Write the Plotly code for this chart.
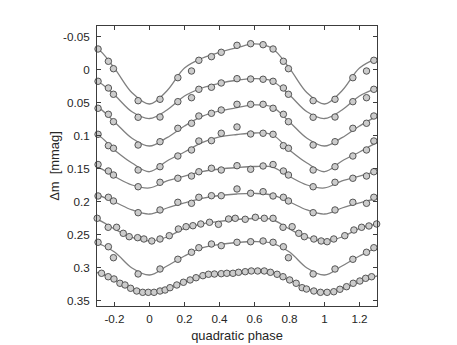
import plotly.graph_objects as go

# phases (fraction of a cycle) of the sparse light curves, one cycle
base_phase = [0.060, 0.162, 0.240, 0.282, 0.354, 0.410, 0.500, 0.578, 0.649, 0.706, 0.765, 0.794, 0.935]

# sparse curves, top to bottom (delta m)
c1 = [0.0448, 0.0121, 0.0020, -0.0142, -0.0197, -0.0263, -0.0369, -0.0393, -0.0378, -0.0313, -0.0127, -0.0015, 0.0469]
c2 = [0.0716, 0.0484, 0.0424, 0.0297, 0.0266, 0.0201, 0.0136, 0.0141, 0.0145, 0.0176, 0.0277, 0.0372, 0.0720]
c3 = [0.1090, 0.0887, 0.0811, 0.0701, 0.0660, 0.0610, 0.0524, 0.0524, 0.0524, 0.0584, 0.0675, 0.0787, 0.1140]
c4 = [0.1468, 0.1306, 0.1215, 0.1079, 0.1074, 0.0962, 0.0867, 0.0973, 0.0962, 0.0978, 0.1150, 0.1189, 0.1518]
c5 = [0.1704, 0.1643, 0.1609, 0.1544, 0.1492, 0.1518, 0.1453, 0.1507, 0.1457, 0.1435, 0.1533, 0.1594, 0.1771]
c6 = [0.2123, 0.2007, 0.2022, 0.1931, 0.1907, 0.1907, 0.1805, 0.1870, 0.1846, 0.1911, 0.1931, 0.1987, 0.2164]
c8 = [0.3016, 0.2869, 0.2763, 0.2694, 0.2638, 0.2663, 0.2612, 0.2603, 0.2592, 0.2612, 0.2679, 0.2845, 0.3091]

# dense curve 7
c7_phase = [-0.299, -0.236, -0.188, -0.150, -0.116, -0.068, -0.032, 0.013, 0.060, 0.113, 0.165, 0.209,
            0.248, 0.293, 0.343, 0.394, 0.452, 0.490, 0.547, 0.605, 0.656, 0.706, 0.763, 0.815, 0.853,
            0.885, 0.939, 0.981, 1.015, 1.053, 1.116, 1.168, 1.212, 1.254, 1.298]
c7 = [0.2249, 0.2385, 0.2385, 0.2476, 0.2527, 0.2542, 0.2562, 0.2592, 0.2562, 0.2512, 0.2411, 0.2376,
      0.2361, 0.2335, 0.2309, 0.2340, 0.2259, 0.2249, 0.2264, 0.2234, 0.2249, 0.2249, 0.2385, 0.2376, 0.2476,
      0.2527, 0.2562, 0.2592, 0.2603, 0.2562, 0.2512, 0.2426, 0.2385, 0.2365, 0.2335]

# dense curve 9 (bottom)
c9_phase = [-0.274, -0.236, -0.203, -0.169, -0.140, -0.108, -0.073, -0.039, -0.007, 0.026, 0.060, 0.089,
            0.117, 0.156, 0.194, 0.232, 0.266, 0.305, 0.337, 0.371, 0.410, 0.442, 0.477, 0.509, 0.547,
            0.582, 0.618, 0.656, 0.691, 0.729, 0.763, 0.801, 0.838, 0.872, 0.897, 0.939, 0.977, 1.015,
            1.053, 1.088, 1.126, 1.164, 1.202, 1.235, 1.269]
c9 = [0.3081, 0.3133, 0.3167, 0.3232, 0.3258, 0.3308, 0.3349, 0.3369, 0.3369, 0.3369, 0.3349, 0.3334,
      0.3299, 0.3258, 0.3217, 0.3182, 0.3148, 0.3117, 0.3096, 0.3092, 0.3087, 0.3081, 0.3081, 0.3066, 0.3057,
      0.3046, 0.3046, 0.3046, 0.3066, 0.3096, 0.3133, 0.3182, 0.3232, 0.3299, 0.3319, 0.3349, 0.3369, 0.3369,
      0.3360, 0.3323, 0.3284, 0.3232, 0.3198, 0.3157, 0.3133]

# fitted curves, read at phase 0.0, 0.1, ... 0.9
fit_phase = [0.0, 0.1, 0.2, 0.3, 0.4, 0.5, 0.6, 0.7, 0.8, 0.9]
fits = [
    [0.0519, 0.0318, -0.0026, -0.0173, -0.0263, -0.0333, -0.0389, -0.0324, -0.0021, 0.0348],
    [0.0739, 0.0610, 0.0398, 0.0277, 0.0206, 0.0160, 0.0136, 0.0171, 0.0383, 0.0636],
    [0.1155, 0.1029, 0.0852, 0.0708, 0.0625, 0.0575, 0.0534, 0.0564, 0.0791, 0.1038],
    [0.1544, 0.1382, 0.1245, 0.1105, 0.1018, 0.0981, 0.0958, 0.0981, 0.1215, 0.1412],
    [0.1790, 0.1684, 0.1609, 0.1541, 0.1503, 0.1480, 0.1465, 0.1472, 0.1616, 0.1745],
    [0.2184, 0.2093, 0.2017, 0.1949, 0.1904, 0.1881, 0.1873, 0.1896, 0.2002, 0.2123],
    [0.2592, 0.2532, 0.2403, 0.2335, 0.2297, 0.2267, 0.2252, 0.2267, 0.2411, 0.2539],
    [0.3107, 0.2971, 0.2819, 0.2698, 0.2645, 0.2615, 0.2600, 0.2623, 0.2759, 0.3001],
    [0.3372, 0.3319, 0.3213, 0.3122, 0.3089, 0.3069, 0.3046, 0.3069, 0.3183, 0.3311],
]

x_ticks = [-0.2, 0, 0.2, 0.4, 0.6, 0.8, 1, 1.2]
x_ticktext = ["-0.2", "0", "0.2", "0.4", "0.6", "0.8", "1", "1.2"]
y_ticks = [-0.05, 0, 0.05, 0.1, 0.15, 0.2, 0.25, 0.3, 0.35]
y_ticktext = ["-0.05", "0", "0.05", "0.1", "0.15", "0.2", "0.25", "0.3", "0.35"]

X_MIN, X_MAX = -0.3, 1.3


def unfold(phase, vals, lo=X_MIN, hi=X_MAX):
    """Repeat one phased cycle at phase-1 and phase+1, keep what falls in [lo, hi]."""
    xs, ys = [], []
    for shift in (-1, 0, 1):
        for p, v in zip(phase, vals):
            if lo - 1e-9 <= p + shift <= hi + 1e-9:
                xs.append(p + shift)
                ys.append(v)
    order = sorted(range(len(xs)), key=lambda i: xs[i])
    return [xs[i] for i in order], [ys[i] for i in order]


LINE_COLOR = "rgb(128,128,128)"
MARKER = dict(symbol="circle", size=6.5, color="rgb(204,204,204)",
              line=dict(color="rgb(70,70,70)", width=0.9))
FONT = "Liberation Sans, Arial, sans-serif"

fig = go.Figure()

# fitted curves first so the points sit on top
for f in fits:
    fx, fy = unfold(fit_phase, f, lo=-1.0, hi=2.0)
    fig.add_trace(go.Scatter(x=fx, y=fy, mode="lines", line=dict(color=LINE_COLOR, width=1.3, shape="spline"),
                             hoverinfo="skip", showlegend=False))

for c in [c1, c2, c3, c4, c5, c6, c8]:
    px, py = unfold(base_phase, c)
    fig.add_trace(go.Scatter(x=px, y=py, mode="markers", marker=MARKER, cliponaxis=False, showlegend=False))

for ph, c in [(c7_phase, c7), (c9_phase, c9)]:
    fig.add_trace(go.Scatter(x=ph, y=c, mode="markers", marker=MARKER, cliponaxis=False, showlegend=False))

axis_common = dict(
    showline=True, linecolor="rgb(60,60,60)", linewidth=1, mirror="ticks",
    ticks="inside", ticklen=4, tickcolor="rgb(60,60,60)", tickwidth=1,
    showgrid=False, zeroline=False,
    tickfont=dict(family=FONT, size=11.7, color="rgb(38,38,38)"),
)

fig.update_xaxes(range=[X_MIN, X_MAX], tickvals=x_ticks, ticktext=x_ticktext, ticklabelstandoff=2,
                 title=dict(text="quadratic phase", standoff=6,
                            font=dict(family=FONT, size=12.9, color="rgb(38,38,38)")),
                 **axis_common)
fig.update_yaxes(range=[0.3576, -0.0661], tickvals=y_ticks, ticktext=y_ticktext, ticklabelstandoff=4,
                 title=dict(text="\u0394m\u00a0 [mmag]", standoff=0,
                            font=dict(family=FONT, size=12.9, color="rgb(38,38,38)")),
                 **axis_common)

# the page body adds an 8 px offset; size the figure so the axes land where they should
fig.update_layout(
    width=449, height=337,
    margin=dict(l=89, r=80, t=18, b=39, autoexpand=False),
    plot_bgcolor="white", paper_bgcolor="white",
    showlegend=False,
)

fig.write_html("out.html")
